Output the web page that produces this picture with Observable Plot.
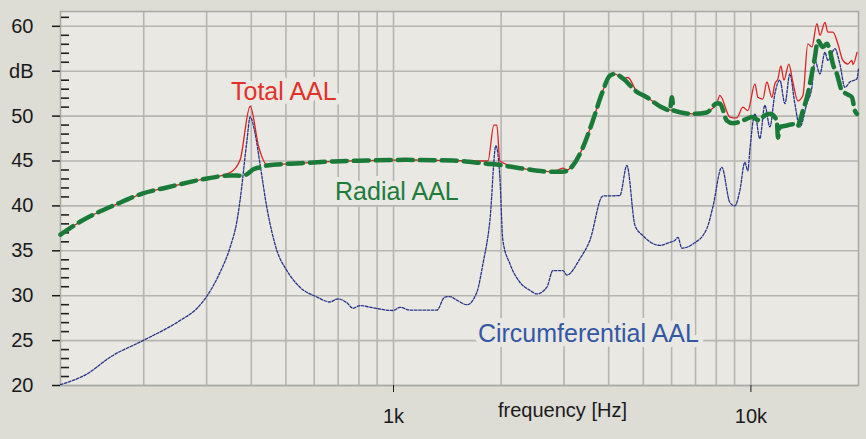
<!DOCTYPE html>
<html><head><meta charset="utf-8">
<script src="https://cdn.jsdelivr.net/npm/d3@7"></script>
<script src="https://cdn.jsdelivr.net/npm/@observablehq/plot@0.6"></script>
<style>body{margin:0;background:#dddcd5;}</style>
</head><body><div id="chart"></div>
<script>
// ---- data (frequency in Hz, level in dB) ----
const radialFreq = [117,135,168,199,232,287,301,349,379,397,404,423,442,547,677,842,1090,1185,1466,1825,1946,2257,2792,2978,3176,3387,3612,3827,4030,4162,4382,4795,5114,5563,5933,6010,6080,6880,7524,8026,8185,8562,8900,9741,10060,10590,10800,11300,11820,11900,12050,12610,13100,13450,13980,14430,14810,15100,15390,15900,16320,16630,16960,17400,17970,18680,19170,19540,19800];
const radialDb   = [36.8,38.4,40.2,41.4,42.05,42.9,43.05,43.4,43.35,43.8,44.05,44.3,44.5,44.75,44.95,45.05,45.13,45.1,45.05,44.7,44.6,44.2,43.8,43.8,44.5,46.5,49.5,52.5,54.5,54.7,54.2,52.7,52.1,51.1,50.65,52.1,50.6,50.25,50.4,51.4,51.4,49.5,49.2,49.7,49.9,49.5,49.9,50.25,49.5,47.6,48.8,48.95,49.1,48.8,50.6,52.5,54.7,56.55,58.4,57.7,58.05,57.3,55.8,54.7,52.85,52.4,52.1,50.6,50.25];

const totalFreq = [117,135,168,199,232,287,349,372,397,420,442,547,677,842,1090,1185,1466,1837,1909,1946,1984,2257,2792,2978,3055,3176,3387,3612,3827,4030,4162,4382,4526,4795,5114,5563,6010,6880,7524,8026,8185,8730,9133,9493,9804,10260,10460,10800,11080,11450,11670,11900,12130,12370,12770,13100,13530,13980,14430,14810,15300,15600,16110,16420,16960,17510,18090,18680,19170,19290,19800];
const totalDb   = [36.8,38.4,40.2,41.4,42.05,42.9,43.7,45.1,51.1,46.5,44.6,44.75,44.95,45.05,45.13,45.1,45.05,45.0,49.0,49.0,45.0,44.2,43.8,44.2,44.0,44.5,46.5,49.5,52.5,54.5,54.7,54.15,54.3,52.7,52.1,51.1,50.6,50.25,50.5,51.4,52.3,49.9,49.8,51.0,50.6,53.6,52.1,51.9,53.8,52.1,53.6,54.15,55.6,54.0,55.8,53.8,51.7,52.3,58.05,57.7,60.3,59.0,60.45,59.35,59.35,58.05,56.2,55.8,56.2,55.75,57.1];

const circFreq = [117,139,161,199,253,282,301,327,349,365,372,389,397,410,423,442,472,503,547,611,664,699,741,770,806,876,996,1042,1111,1322,1392,1438,1504,1605,1711,1779,1861,1934,1984,2023,2117,2257,2407,2518,2686,2792,2978,3055,3322,3542,3852,4298,4497,4740,4984,5563,5933,6127,6247,6410,6880,7524,7822,8290,8730,9016,9311,9616,9804,9931,10260,10590,10940,11300,11670,12050,12450,12850,13270,13710,14340,14810,15100,15600,16110,16420,17180,17740,18320,18920,19800,20000];
const circDb   = [20.1,21.3,23.15,25.0,27.25,28.6,30.0,32.6,35.4,38.4,40.6,47.3,49.9,48.05,44.7,39.85,35.0,32.8,30.95,29.85,29.3,29.65,29.2,28.6,28.9,28.65,28.35,28.7,28.4,28.4,29.85,29.9,29.5,29.0,30.4,33.55,38.4,46.7,43.2,36.15,33.55,31.5,30.6,30.2,30.95,32.8,32.8,32.3,34.1,36.15,41.1,41.15,44.5,37.8,36.7,35.6,35.95,36.15,36.5,35.3,35.75,37.45,39.85,44.3,40.4,40.0,41.7,44.85,43.9,46.2,50.25,47.5,51.2,48.8,52.5,54.0,51.4,54.7,51.4,48.8,51.4,53.2,56.2,54.7,57.1,56.2,57.5,55.8,53.2,53.8,54.15,55.3];

const gridFreqs = [200,300,400,500,600,700,800,900,1000,2000,3000,4000,5000,6000,7000,8000,9000,10000];
const majorDb = [20,25,30,35,40,45,50,55,60];
const minorDb = d3.range(21,62).filter(d => d % 5 !== 0);
const xTicks = [1000,10000];
const xTickLabels = ["1k","10k"];

const labelText = ["Total AAL","Radial AAL","Circumferential AAL"];
const labelFreq = [351,686,1722];
const labelDb   = [52.74,41.57,25.71];
const labelColor = ["#e3312a","#1e7b3c","#3457a4"];

// ---- layout ----
const W = 866, H = 439, mL = 60, mR = 8, mT = 11, mB = 54;
const plotBg = "#e9e8e3";
const rows = (f, v) => f.map((x, i) => ({f: x, db: v[i]}));
const labels = labelText.map((t, i) => ({t, f: labelFreq[i], db: labelDb[i], c: labelColor[i]}));

const chart = Plot.plot({
  width: W, height: H,
  marginLeft: mL, marginRight: mR, marginTop: mT, marginBottom: mB,
  style: {background: "#dddcd5", fontFamily: "'Liberation Sans', Arial, sans-serif", fontSize: "20px", color: "#1a1a1a"},
  x: {type: "log", domain: [117, 20000]},
  y: {domain: [20, 61.65]},
  marks: [
    Plot.frame({fill: plotBg, stroke: "none"}),
    Plot.ruleX(gridFreqs, {stroke: "#b5b5b1", strokeWidth: 1.6}),
    Plot.ruleY(majorDb, {stroke: "#b5b5b1", strokeWidth: 1.6}),
    Plot.frame({stroke: "#a9a9a5", strokeWidth: 1.5}),
    Plot.tickY(minorDb, {y: d => d, stroke: "#222", strokeWidth: 1.6, insetLeft: 1, insetRight: W - mL - mR - 9}),
    Plot.axisY({ticks: majorDb, tickFormat: d => d === 55 ? "dB" : String(d), tickSize: 8, tickPadding: 19, label: null, fontSize: 20, strokeWidth: 1.5}),
    Plot.axisX({ticks: xTicks, tickFormat: d => xTickLabels[xTicks.indexOf(d)], tickSize: 7, tickPadding: 16, label: null, fontSize: 20}),
    Plot.text(["frequency [Hz]"], {frameAnchor: "bottom", dx: 103, dy: 31, fontSize: 20, fill: "#1a1a1a", letterSpacing: "0.5px"}),
    Plot.text(labels, {x: "f", y: "db", text: "t", fill: "c", textAnchor: "start", fontSize: 25,
      stroke: plotBg, strokeWidth: 10, paintOrder: "stroke", strokeLinejoin: "round"}),
    Plot.line(rows(circFreq, circDb), {x: "f", y: "db", stroke: "#28348a", strokeWidth: 1.3, strokeDasharray: "2.6,1.6", curve: "monotone-x"}),
    Plot.line(rows(totalFreq, totalDb), {x: "f", y: "db", stroke: "#dd2222", strokeWidth: 1.3, curve: "monotone-x"}),
    Plot.line(rows(radialFreq, radialDb), {x: "f", y: "db", stroke: "#1a7a38", strokeWidth: 4.5, strokeDasharray: "15,7", curve: "monotone-x"})
  ]
});
document.getElementById("chart").appendChild(chart);
</script>
</body></html>
